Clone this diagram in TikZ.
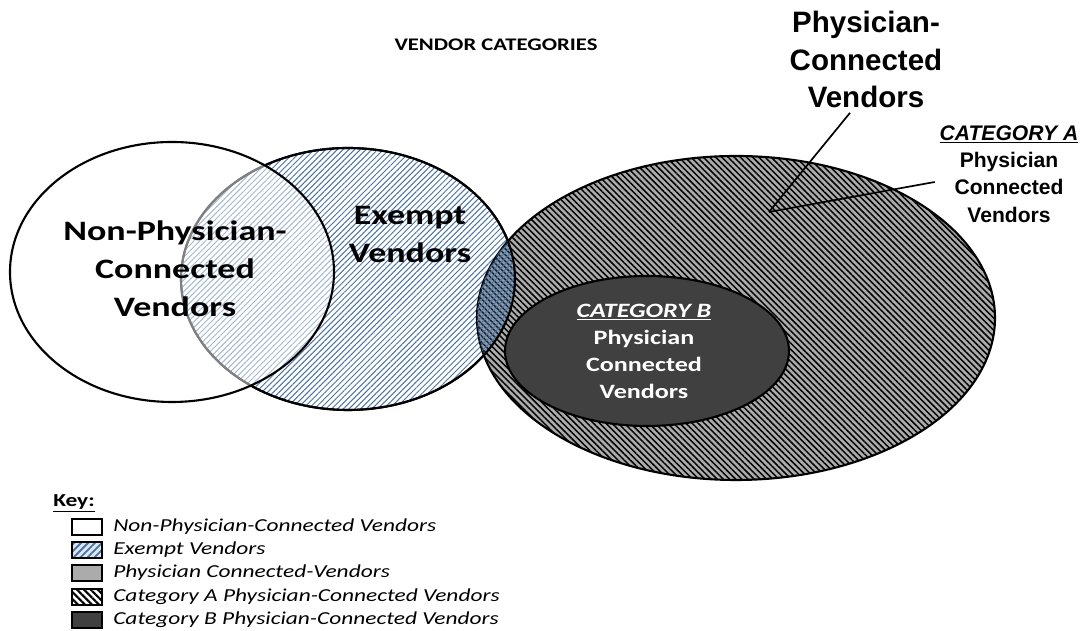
\documentclass[tikz,border=0pt]{standalone}
\usepackage{fontspec}
\usepackage{xcolor}
\usepackage{tikz}
\usetikzlibrary{patterns.meta,positioning}
\newfontfamily\calfont[FakeStretch=1.28]{Carlito}
\newfontfamily\arialfont{Liberation Sans}
\definecolor{hatchblue}{HTML}{4A74A3}
\definecolor{keyblue}{HTML}{DCE6F2}
\definecolor{pcgray}{HTML}{ABABAB}
\definecolor{catbgray}{HTML}{404040}
\tikzset{
  venn/.style={draw=black, line width=1.5pt},
  bluehatch/.style={pattern={Lines[angle=45,distance=2.9pt,line width=0.7pt]}, pattern color=hatchblue},
  greyhatch/.style={pattern={Lines[angle=-45,distance=3.1pt,line width=1.05pt]}, pattern color=black},
  leader/.style={draw=black, line width=1.2pt},
  biglab/.style={font=\calfont\bfseries\fontsize{20}{27}\selectfont, align=center},
  blab/.style={font=\calfont\bfseries\fontsize{14.5}{19.2}\selectfont, align=center, text=white},
  pcvlab/.style={font=\arialfont\bfseries\fontsize{21}{26.7}\selectfont, align=center},
  catalab/.style={font=\arialfont\bfseries\fontsize{15}{19.4}\selectfont, align=center},
  keytxt/.style={font=\calfont\itshape\fontsize{13}{15}\selectfont, anchor=west, inner sep=0pt},
  keybox/.style={draw=black, line width=1.5pt, minimum width=0.75cm, minimum height=0.42cm, inner sep=0pt},
}

\begin{document}
\begin{tikzpicture}
  \useasboundingbox (0,0) rectangle (27.1,15.775);
  % centres of the sets
  \coordinate (np) at (4.3,8.975);
  \coordinate (ex) at (8.7,8.8);
  \coordinate (pc) at (18.4,7.825);
  \coordinate (cb) at (16.175,7.0);

  % exempt, then the white set over it
  \path[venn, preaction={fill=white}, bluehatch] (ex) ellipse [x radius=4.175, y radius=3.275];
  \draw[venn] (ex) ellipse [x radius=4.175, y radius=3.275];
  \fill[white, fill opacity=0.5] (np) ellipse [x radius=4.05, y radius=3.25];
  \draw[venn] (np) ellipse [x radius=4.05, y radius=3.25];

  % physician connected, category A and B
  \path[preaction={fill=pcgray}, greyhatch] (pc) ellipse [x radius=6.475, y radius=4.05];
  \draw[venn] (pc) ellipse [x radius=6.475, y radius=4.05];
  \draw[venn, fill=catbgray] (cb) ellipse [x radius=3.55, y radius=1.875];

  % where exempt runs over the big set
  \begin{scope}
    \clip (pc) ellipse [x radius=6.475, y radius=4.05];
    \fill[hatchblue, fill opacity=0.3] (ex) ellipse [x radius=4.175, y radius=3.275];
    \path[bluehatch] (ex) ellipse [x radius=4.175, y radius=3.275];
    \draw[venn] (ex) ellipse [x radius=4.175, y radius=3.275];
  \end{scope}

  % labels
  \node[font=\calfont\bfseries\fontsize{12.6}{15}\selectfont] (title) at (12.4,14.65) {VENDOR CATEGORIES};
  \node[biglab] (nptext) at (4.375,9.05) {Non-Physician-\\Connected\\Vendors};
  \node[biglab] (extext) at (10.25,9.9125) {Exempt\\Vendors};
  \node[blab] (cbtext) at (16.1,6.9875) {\textit{\underline{CATEGORY B}}\\Physician\\Connected\\Vendors};
  \node[pcvlab] (pcv) at (21.65,14.2875) {Physician-\\Connected\\Vendors};
  \node[catalab] (cata) at (25.225,11.425) {\textit{\underline{CATEGORY A}}\\Physician\\Connected\\Vendors};

  \coordinate (tip) at (19.225,10.475);
  \draw[leader] ([xshift=-0.4cm]pcv.south) -- (tip);
  \draw[leader] ([yshift=-0.2cm]cata.west) -- (tip);

  % key
  \node[font=\calfont\bfseries\fontsize{13}{15}\selectfont, anchor=west, inner sep=0pt] (key) at (1.325,3.2) {\underline{Key:}};
  \node[keybox, fill=white] (k1) at (2.175,2.6) {};
  \node[keybox, preaction={fill=keyblue}, pattern={Lines[angle=45,distance=3.5pt,line width=1.3pt]}, pattern color=hatchblue] (k2) at (2.175,2.025) {};
  \node[keybox, fill=pcgray] (k3) at (2.175,1.45) {};
  \node[keybox, preaction={fill=white}, pattern={Lines[angle=-45,distance=3.5pt,line width=1.5pt]}, pattern color=black] (k4) at (2.175,0.85) {};
  \node[keybox, fill=catbgray] (k5) at (2.175,0.275) {};
  \node[keytxt] (t1) at (2.825,2.6) {Non-Physician-Connected Vendors};
  \node[keytxt] (t2) at (2.825,2.025) {Exempt Vendors};
  \node[keytxt] (t3) at (2.825,1.45) {Physician Connected-Vendors};
  \node[keytxt] (t4) at (2.825,0.85) {Category A Physician-Connected Vendors};
  \node[keytxt] (t5) at (2.825,0.275) {Category B Physician-Connected Vendors};
\end{tikzpicture}
\end{document}
